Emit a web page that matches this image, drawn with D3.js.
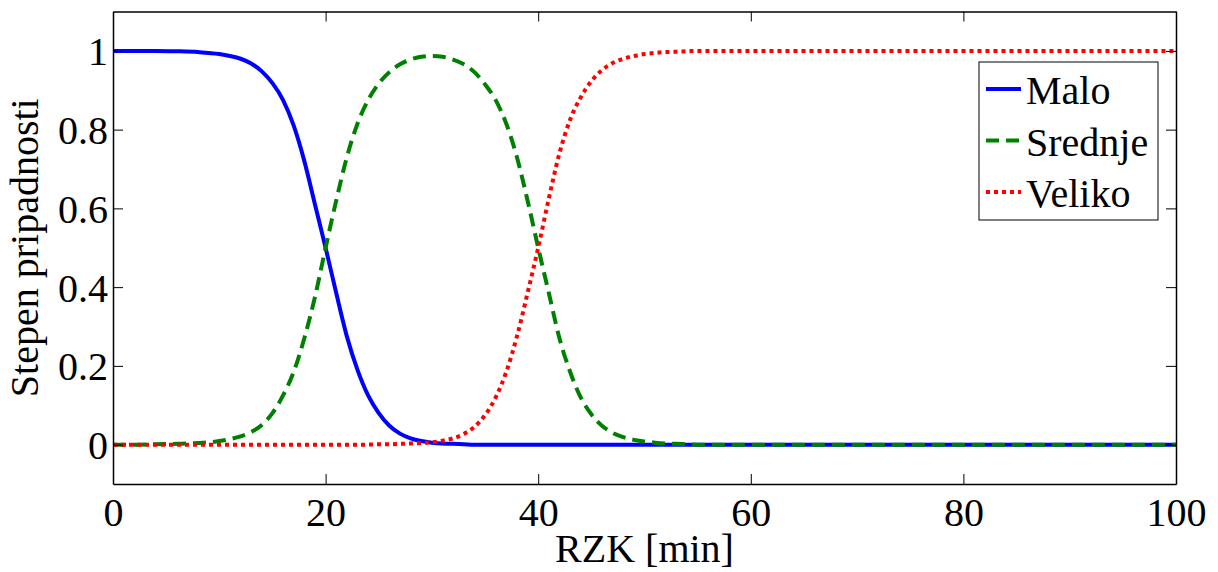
<!DOCTYPE html>
<html>
<head>
<meta charset="utf-8">
<script src="https://cdn.jsdelivr.net/npm/d3@7"></script>
<style>
  body { margin: 0; background: #fff; }
  svg { display: block; }
</style>
</head>
<body>
<svg id="chart"></svg>
<script>
// RZK [min] sample points
const minutes = [0, 2, 4, 6, 8, 10, 11, 12, 13, 14, 15, 16, 17, 18, 19, 20, 21, 22, 23, 24, 25,
  26, 27, 28, 29, 30, 31, 32, 33, 34, 35, 36, 37, 38, 39, 40, 41, 42, 43, 44, 45, 46, 47, 48,
  49, 50, 51, 52, 53, 54, 55, 56, 58, 60, 70, 80, 90, 100];

const malo = [1, 1, 1, 0.999, 0.997, 0.992, 0.987, 0.98, 0.968, 0.948, 0.918, 0.875, 0.81, 0.72, 0.61, 0.5, 0.385, 0.275, 0.19, 0.125, 0.08,
  0.048, 0.028, 0.016, 0.009, 0.005, 0.003, 0.002, 0.001, 0, 0, 0, 0, 0, 0, 0, 0, 0, 0, 0, 0, 0, 0, 0,
  0, 0, 0, 0, 0, 0, 0, 0, 0, 0, 0, 0, 0, 0];

const srednje = [0, 0, 0.001, 0.002, 0.004, 0.009, 0.014, 0.021, 0.032, 0.05, 0.08, 0.125, 0.185, 0.27, 0.375, 0.5, 0.62, 0.73, 0.815, 0.875, 0.917,
  0.946, 0.966, 0.978, 0.985, 0.987, 0.985, 0.978, 0.966, 0.946, 0.915, 0.875, 0.815, 0.73, 0.62, 0.5, 0.385, 0.27, 0.185, 0.12, 0.077, 0.048, 0.03, 0.019,
  0.012, 0.008, 0.005, 0.003, 0.002, 0.001, 0, 0, 0, 0, 0, 0, 0, 0];

const veliko = [0, 0, 0, 0, 0, 0, 0, 0, 0, 0, 0, 0, 0, 0, 0, 0, 0, 0, 0, 0, 0.001,
  0.001, 0.002, 0.003, 0.004, 0.006, 0.01, 0.016, 0.027, 0.045, 0.075, 0.12, 0.185, 0.275, 0.385, 0.5, 0.625, 0.74, 0.825, 0.882, 0.923, 0.951, 0.969, 0.98,
  0.987, 0.992, 0.995, 0.997, 0.998, 0.999, 1, 1, 1, 1, 1, 1, 1, 1];

const seriesNames = ["Malo", "Srednje", "Veliko"];
const xTicks = [0, 20, 40, 60, 80, 100];
const yTicks = [0, 0.2, 0.4, 0.6, 0.8, 1];

const width = 1218, height = 572;
const margin = { top: 11.5, right: 42, bottom: 88, left: 113 };
const font = "Liberation Serif";
// the serif face only renders at smaller sizes here, so draw at 30px and scale up to 40px
const k = 40 / 30;

const series = [
  { name: seriesNames[0], values: malo, color: "#0000ff", dash: null },
  { name: seriesNames[1], values: srednje, color: "#008000", dash: "13,7" },
  { name: seriesNames[2], values: veliko, color: "#ff0000", dash: "4,4" }
];

const svg = d3.select("#chart").attr("width", width).attr("height", height);
svg.append("rect").attr("width", width).attr("height", height).attr("fill", "#fff");

const x = d3.scaleLinear().domain([0, 100]).range([margin.left, width - margin.right]);
const y = d3.scaleLinear().domain([-0.1, 1.1]).range([height - margin.bottom, margin.top]);

const fmt = d => String(+d.toFixed(1));

function label(sel, tx, ty, rot) {
  sel.attr("x", 0).attr("y", 0).attr("dy", null)
    .attr("fill", "#000")
    .style("font-family", font).style("font-size", "30px")
    .attr("transform", `translate(${tx},${ty})${rot ? ` rotate(${rot})` : ""} scale(${k})`);
  return sel;
}

// lines
const line = d3.line()
  .x((d, i) => x(minutes[i]))
  .y(d => y(d))
  .curve(d3.curveMonotoneX);

series.forEach(s => {
  svg.append("path")
    .attr("d", line(s.values))
    .attr("fill", "none")
    .attr("stroke", s.color)
    .attr("stroke-width", 4)
    .attr("stroke-dasharray", s.dash);
});

// axes (box with inward ticks on all sides)
const tick = 10;
const gx = svg.append("g").attr("transform", `translate(0,${y(-0.1)})`)
  .call(d3.axisBottom(x).tickValues(xTicks).tickFormat(fmt).tickSizeInner(-tick).tickSizeOuter(0));
const gy = svg.append("g").attr("transform", `translate(${x(0)},0)`)
  .call(d3.axisLeft(y).tickValues(yTicks).tickFormat(fmt).tickSizeInner(-tick).tickSizeOuter(0));
const gt = svg.append("g").attr("transform", `translate(0,${y(1.1)})`)
  .call(d3.axisTop(x).tickValues(xTicks).tickFormat("").tickSizeInner(-tick).tickSizeOuter(0));
const gr = svg.append("g").attr("transform", `translate(${x(100)},0)`)
  .call(d3.axisRight(y).tickValues(yTicks).tickFormat("").tickSizeInner(-tick).tickSizeOuter(0));

[gx, gy, gt, gr].forEach(g => {
  g.select(".domain").attr("stroke", "#000").attr("stroke-width", 1.5);
  g.selectAll(".tick line").attr("stroke", "#000").attr("stroke-width", 1);
});
gx.selectAll(".tick text").call(label, 0, 42);
gy.selectAll(".tick text").call(label, -5, 14);
gt.selectAll(".tick text").remove();
gr.selectAll(".tick text").remove();

// axis titles
svg.append("text")
  .attr("text-anchor", "middle")
  .call(label, (x(0) + x(100)) / 2, 562)
  .text("RZK [min]");

svg.append("text")
  .attr("text-anchor", "middle")
  .call(label, 38, (y(-0.1) + y(1.1)) / 2, -90)
  .text("Stepen pripadnosti");

// legend
const legend = svg.append("g");
legend.append("rect")
  .attr("x", 979).attr("y", 62)
  .attr("width", 179).attr("height", 158)
  .attr("fill", "#fff").attr("stroke", "#000").attr("stroke-width", 1);

series.forEach((s, i) => {
  const ly = 89 + i * 51.5;
  legend.append("line")
    .attr("x1", 986).attr("x2", 1021)
    .attr("y1", ly).attr("y2", ly)
    .attr("stroke", s.color)
    .attr("stroke-width", 4)
    .attr("stroke-dasharray", s.dash);
  legend.append("text")
    .call(label, 1026, ly + 15)
    .text(s.name);
});
</script>
</body>
</html>
